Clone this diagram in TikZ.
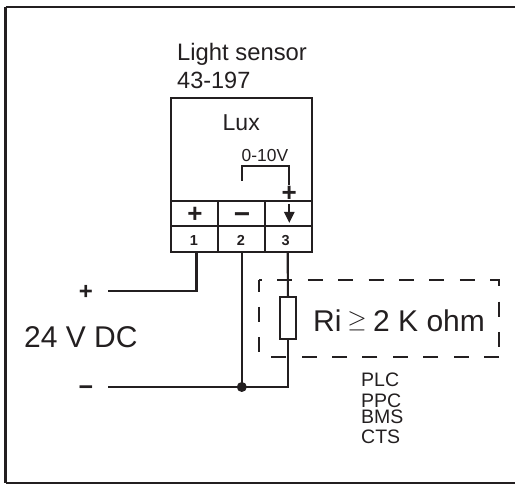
\documentclass[tikz,border=0pt]{standalone}
\usepackage{fontspec}
\setmainfont{Liberation Sans}
\usetikzlibrary{arrows.meta}
\definecolor{ink}{HTML}{231F20}
\tikzset{
  x=1pt,y=-1pt,
  thick line/.style={draw=ink,line width=2.2pt},
  frame line/.style={draw=ink,line width=2.4pt},
  dash line/.style={draw=ink,line width=2.1pt,dash pattern=on 15pt off 15.4pt},
  txt/.style={text=ink,inner sep=0pt,anchor=base west},
  sym/.style={text=ink,inner sep=0pt,anchor=center},
  port/.style={coordinate},
}
\begin{document}
\begin{tikzpicture}
\useasboundingbox (0,0) rectangle (515,484);
\fill[white] (0,0) rectangle (515,484);
\draw[frame line] (5.5,7) -- (515,7);
\draw[frame line] (5.5,7) -- (5.5,483);
\draw[frame line] (5.5,483) -- (515,483);
% sensor
\node[txt,font=\fontsize{23.8}{25}\selectfont] (title) at (177,61) {Light sensor};
\node[txt,font=\fontsize{23.5}{25}\selectfont] (code) at (177,89) {43-197};
\draw[frame line] (171,98) rectangle (312,252);
\draw[frame line] (171,201) -- (312,201);
\draw[frame line] (171,226) -- (312,226);
\draw[frame line] (218,201) -- (218,252);
\draw[frame line] (265,201) -- (265,252);
\node[txt,font=\fontsize{23}{25}\selectfont] (lux) at (222.5,131) {Lux};
\node[txt,font=\fontsize{17.4}{19}\selectfont] (range) at (241.5,162) {0-10V};
\coordinate (jl) at (241.8,181);
\coordinate (jr) at (289.3,185);
\draw[thick line] (jl) |- (jr |- 0,166) -- (jr);
\node[sym,font=\bfseries\fontsize{26}{26}\selectfont] (jp) at (289.3,194) {+};
\node[sym,font=\bfseries\fontsize{26}{26}\selectfont] (tp) at (195,214.5) {+};
\node[sym,font=\bfseries\fontsize{28}{28}\selectfont] (tm) at (242,218) {−};
\coordinate (ats) at (289.3,204);
\coordinate (ate) at (289.3,223);
\draw[thick line,-{Triangle[length=11pt,width=10pt]}] (ats) -- (ate);
\node[sym,font=\bfseries\fontsize{14.5}{15}\selectfont] (n1) at (194,240.5) {1};
\node[sym,font=\bfseries\fontsize{14.5}{15}\selectfont] (n2) at (241,240.5) {2};
\node[sym,font=\bfseries\fontsize{14.5}{15}\selectfont] (n3) at (285.7,240.5) {3};
\coordinate (t1) at (196.5,252);
\coordinate (t2) at (241.8,252);
\coordinate (t3) at (287.8,252);
% resistor
\node[draw=ink,line width=2.1pt,fill=white,minimum width=16pt,minimum height=42pt,inner sep=0pt] (res) at (287.9,318) {};
% supply
\node[port] (pw) at (108,291) {};
\node[port] (mw) at (108,387) {};
\fill[ink] (241.8,387) circle (5) coordinate (dot);
\node[sym,font=\bfseries\fontsize{24}{24}\selectfont] (sp) at (86,292.5) {+};
\node[sym,font=\bfseries\fontsize{25}{25}\selectfont] (sm) at (86,391) {−};
\node[txt,font=\fontsize{30}{32}\selectfont] (v) at (24,347.5) {24 V DC};
\draw[thick line] (t1) |- (pw);
\draw[thick line] (t2) -- (dot);
\draw[thick line] (mw) -- (dot) -| (res.south);
\draw[thick line] (t3) -- (res.north);
% dashed box
\draw[dash line,dash phase=12pt] (259,280) -- (499,280) -- (499,357);
\draw[dash line] (499,357) -- (259,357);
\draw[dash line,dash phase=3.4pt] (259,280) -- (259,357);
\node[txt,font=\fontsize{30}{32}\selectfont] (ri) at (313,332) {Ri};
\node[txt,font=\fontsize{30}{32}\selectfont] (rv) at (373,332) {2 K ohm};
\node[sym,font=\fontsize{26}{28}\selectfont] (ge) at (357,321) {$\geq$};
% labels
\node[txt,font=\fontsize{19.5}{20}\selectfont] (a) at (361,387) {PLC};
\node[txt,font=\fontsize{19.5}{20}\selectfont] (b) at (361,407) {PPC};
\node[txt,font=\fontsize{19.5}{20}\selectfont] (c) at (361,424) {BMS};
\node[txt,font=\fontsize{19.5}{20}\selectfont] (d) at (361,443) {CTS};
\end{tikzpicture}
\end{document}
